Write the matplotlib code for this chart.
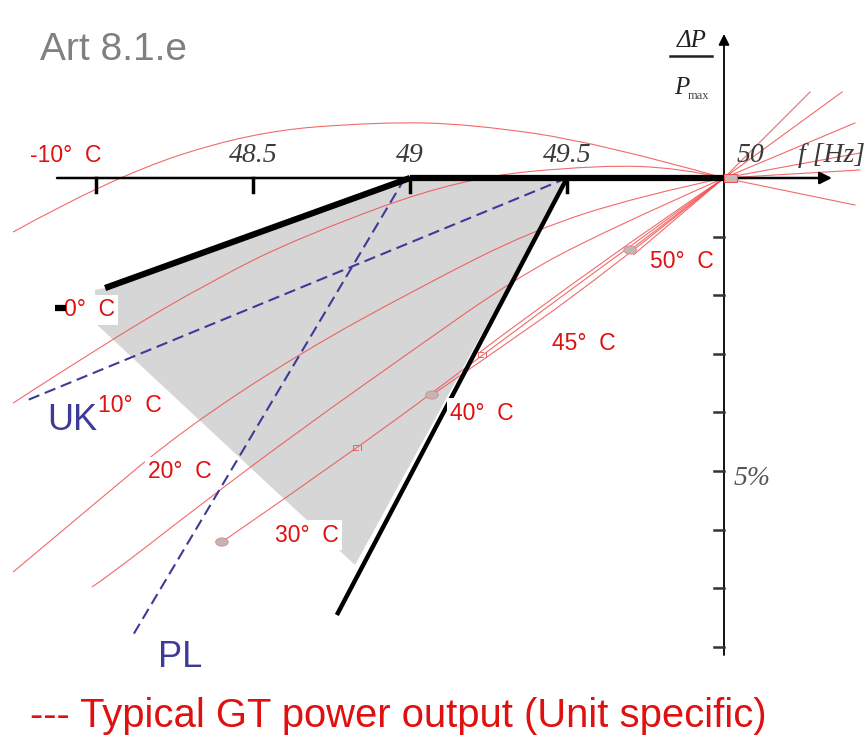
import matplotlib
matplotlib.use("Agg")
import matplotlib.pyplot as plt
from matplotlib.patches import Polygon, Ellipse, PathPatch
from matplotlib.path import Path
from matplotlib.lines import Line2D

# ---------------- data (frequency in Hz, power change in % of Pmax) ----------------
x_tick_values = [48.0, 48.5, 49.0, 49.5]
x_tick_labels = ["48.5", "49", "49.5", "50"]
x_label_values = [48.5, 49.0, 49.5, 50.0]
y_tick_values = [-1, -2, -3, -4, -5, -6, -7, -8]
y_tick_label = "5%"

temps = ["-10", "0", "10", "20", "30", "40", "45", "50"]

m10_f = [47.736, 48.045, 48.490, 48.904, 49.191, 49.605, 50.0, 50.417]
m10_p = [-0.922, 0.0, 0.785, 0.956, 0.922, 0.597, 0.0, -0.461]
t0_f = [47.736, 48.045, 48.373, 48.650, 49.159, 49.605, 49.860, 50.0, 50.433]
t0_p = [-3.840, -2.765, -1.741, -1.007, 0.0, 0.222, 0.171, 0.0, 0.137]
t10_f = [47.736, 48.013, 48.277, 48.650, 49.032, 49.392, 49.732, 50.0, 50.433]
t10_p = [-6.724, -5.478, -4.300, -2.986, -1.860, -0.887, -0.307, 0.0, 0.427]
t20_f = [47.987, 48.045, 48.331, 48.650, 49.032, 49.328, 49.605, 50.0, 50.417]
t20_p = [-6.980, -6.775, -5.580, -4.300, -2.850, -1.741, -0.939, 0.0, 0.939]
t30_f = [48.401, 48.834, 49.223, 49.605, 50.0, 50.376]
t30_p = [-6.212, -4.608, -3.055, -1.536, 0.0, 1.468]
t40_f = [49.070, 49.223, 49.605, 50.0, 50.274]
t40_p = [-3.703, -3.140, -1.706, 0.0, 1.468]
t45_f = [49.223, 49.605, 50.0]
t45_p = [-2.969, -1.433, 0.0]
t50_f = [49.701, 49.860, 50.0]
t50_p = [-1.229, -0.580, 0.0]
t50b_f = [49.711, 50.0]
t50b_p = [-1.314, 0.0]

curve_end_f = [48.401, 49.070, 49.701]      # grey end markers
curve_end_p = [-6.212, -3.703, -1.229]
bracket_f = [48.834, 49.230]
bracket_p = [-4.608, -3.020]

# admissible-reduction envelope
upper_f = [48.029, 49.0]
upper_p = [-1.877, 0.0]
lower_f = [49.5, 48.767]
lower_p = [0.0, -7.457]
band_f = [48.029, 49.0, 49.5, 48.825, 47.997, 47.997]
band_p = [-1.877, 0.0, 0.0, -6.604, -2.474, -1.911]

# national requirements
uk_f = [49.5, 47.783]
uk_p = [0.0, -3.788]
pl_f = [48.984, 48.118]
pl_p = [0.0, -7.799]

# ---------------- figure ----------------
W, H = 867, 737
fig = plt.figure(figsize=(W / 100, H / 100), dpi=100)
ax = fig.add_axes([0, 0, 1, 1])
# pixel mapping: f = 50 + (x-724)/314 ; p = -(y-178)/58.6
ax.set_xlim(50 + (0 - 724) / 314, 50 + (W - 724) / 314)
ax.set_ylim(-(H - 178) / 58.6, 178 / 58.6)
ax.axis("off")


def px(x, y):
    return (x / W, 1 - y / H)


def smooth_path(fs, ps):
    pts = list(zip(fs, ps))
    if len(pts) < 3:
        return Path(pts, [Path.MOVETO] + [Path.LINETO] * (len(pts) - 1))
    verts = [pts[0]]
    codes = [Path.MOVETO]
    for i in range(1, len(pts) - 2):
        mid = ((pts[i][0] + pts[i + 1][0]) / 2, (pts[i][1] + pts[i + 1][1]) / 2)
        verts += [pts[i], mid]
        codes += [Path.CURVE3, Path.CURVE3]
    verts += [pts[-2], pts[-1]]
    codes += [Path.CURVE3, Path.CURVE3]
    return Path(verts, codes)


SANS = "Liberation Sans"
SERIF = "Liberation Serif"

# grey band
ax.add_patch(Polygon(list(zip(band_f, band_p)), closed=True, fc="#d6d6d6",
                     ec="none", zorder=1))

# red temperature curves
red = "#f05050"
for fs, ps in [(m10_f, m10_p), (t0_f, t0_p), (t10_f, t10_p), (t20_f, t20_p),
               (t30_f, t30_p), (t40_f, t40_p), (t45_f, t45_p), (t50_f, t50_p),
               (t50b_f, t50b_p)]:
    k = fs.index(50.0)
    before_f, before_p = fs[:k + 1], ps[:k + 1]
    after_f, after_p = fs[k:], ps[k:]
    ax.add_patch(PathPatch(smooth_path(before_f, before_p), fc="none", ec=red,
                           lw=0.8, alpha=0.85, zorder=2))
    if len(after_f) > 1:
        ax.plot(after_f, after_p, color=red, lw=0.8, alpha=0.85, zorder=2)

for f, p in zip(curve_end_f, curve_end_p):
    ax.add_patch(Ellipse((f, p), 0.040, 0.14, fc="#c4b4b4", ec="#d08c8c",
                         lw=0.6, zorder=3))
for f, p in zip(bracket_f, bracket_p):
    ax.text(f, p, "\u228f\u0131", color=red, fontsize=7, ha="center",
            va="center", zorder=3, family="DejaVu Sans")

# blue dashed lines
blue = "#3c3c98"
ax.plot(uk_f, uk_p, color=blue, lw=1.5, dashes=(5.5, 2.8), zorder=3)
ax.plot(pl_f, pl_p, color=blue, lw=1.5, dashes=(5.5, 2.8), zorder=3)

# axes
ax.annotate("", xy=(50 + (832 - 724) / 314, 0), xytext=(50 + (57 - 724) / 314, 0),
            arrowprops=dict(arrowstyle="-|>", color="black", lw=1.8,
                            mutation_scale=18, shrinkA=0, shrinkB=0), zorder=4)
ax.annotate("", xy=(50, (178 - 34) / 58.6), xytext=(50, -(655 - 178) / 58.6),
            arrowprops=dict(arrowstyle="-|>", color="black", lw=1.3,
                            mutation_scale=16, shrinkA=0, shrinkB=0), zorder=4)
ax.plot([49.0, 50.0], [0, 0], color="black", lw=4.5, solid_capstyle="butt", zorder=4)

for xt in x_tick_values:
    ax.plot([xt, xt], [0, -14 / 58.6], color="black", lw=2.5, zorder=4)
for yt in y_tick_values:
    ax.plot([50 - 10 / 314, 50], [yt, yt], color="#333333", lw=1.8, zorder=4)

# envelope lines
ax.plot(upper_f, upper_p, color="black", lw=4.5, solid_capstyle="butt", zorder=4)
ax.plot(lower_f, lower_p, color="black", lw=3.2, solid_capstyle="butt", zorder=4)

# centre marker
ax.add_patch(Polygon([(50.0, 0.07), (50.04, 0.07), (50.04, -0.07), (50.0, -0.07)],
                     closed=True, fc="#c8b8b8", ec=red, lw=0.8, zorder=5))

# ---------------- texts ----------------
fig.text(*px(40, 60), "Art 8.1.e", fontsize=28, color="#808080", family=SANS,
         va="baseline", ha="left")

for xv, lab in zip(x_label_values, x_tick_labels):
    xx = 724 + (xv - 50) * 314
    if lab == "50":
        xx = 750
    fig.text(*px(xx, 162), lab, fontsize=20, family=SERIF, style="italic",
             color="#3a3a3a", ha="center", va="baseline")
fig.text(*px(832, 162), "f [Hz]", fontsize=20, family=SERIF, style="italic",
         color="#3a3a3a", ha="center", va="baseline")
fig.text(*px(752, 485), y_tick_label, fontsize=20, family=SERIF, style="italic",
         color="#555555", ha="center", va="baseline")

# dP / Pmax
fig.text(*px(692, 47), "\u0394P", fontsize=18, family=SERIF, style="italic",
         color="#222222", ha="center", va="baseline")
ax.plot([50 - 54 / 314, 50 - 12 / 314], [(178 - 56) / 58.6] * 2, color="#222222",
        lw=1.8, zorder=4)
fig.text(*px(682, 94), "P", fontsize=18, family=SERIF, style="italic",
         color="#222222", ha="center", va="baseline")
fig.text(*px(698, 99), "max", fontsize=9, family=SERIF,
         color="#444444", ha="center", va="baseline")

label_pos = {"-10": (30, 156), "0": (64, 310), "10": (98, 405), "20": (148, 472),
             "30": (275, 535), "40": (450, 413), "45": (552, 343), "50": (650, 262)}
for t in temps:
    x, y = label_pos[t]
    fig.text(*px(x, y), f"{t}\u00b0  C", fontsize=16.5, family=SANS,
             color="#e01010", ha="left", va="center",
             bbox=dict(fc="white", ec="none", pad=2.5))

# small black stub left of the 0 deg label (drawn above the label box)
x0, y0 = px(55, 308)
x1, _ = px(66, 308)
fig.add_artist(Line2D([x0, x1], [y0, y0], transform=fig.transFigure, color="black",
                      lw=4.5, solid_capstyle="butt", zorder=10))

fig.text(*px(47, 430), "UK", fontsize=26, family=SANS, color=blue,
         ha="left", va="baseline")
fig.text(*px(158, 667), "PL", fontsize=26, family=SANS, color=blue,
         ha="left", va="baseline")

fig.text(*px(30, 727), "--- Typical GT power output (Unit specific)", fontsize=28.8,
         family=SANS, color="#e01010", ha="left", va="baseline")

fig.savefig("out.png", dpi=100)
